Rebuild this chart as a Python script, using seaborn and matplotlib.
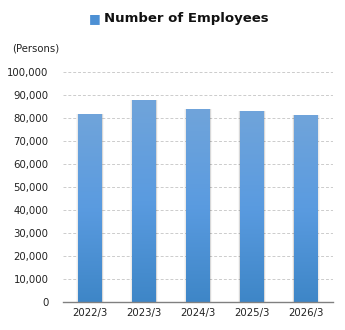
import matplotlib
matplotlib.use("Agg")
import matplotlib.pyplot as plt
import seaborn as sns
import numpy as np
import pandas as pd
from matplotlib.ticker import FuncFormatter, FixedLocator

years = ["2022/3", "2023/3", "2024/3", "2025/3", "2026/3"]
employees = [81700, 87800, 83900, 83000, 81300]
title = "Number of Employees"
unit_label = "(Persons)"

df = pd.DataFrame({"year": years, "employees": employees})

sns.set_theme(style="white")
plt.rcParams["font.family"] = ["DejaVu Sans"]

fig = plt.figure(figsize=(3.45, 3.30), dpi=100)
ax = fig.add_axes([0.183, 0.085, 0.782, 0.697])

sns.barplot(data=df, x="year", y="employees", color="#5698d6", width=0.44,
            ax=ax, zorder=3)

# gradient fill + soft shadow at the bar sides
grad = np.linspace(0, 1, 256).reshape(-1, 1)
cmap = matplotlib.colors.LinearSegmentedColormap.from_list("bar", ["#3e86c7", "#5a9be0", "#70a4da"])
for p in ax.patches:
    x0, y0 = p.get_x(), p.get_y()
    w, h = p.get_width(), p.get_height()
    for k, a in enumerate([0.08, 0.05, 0.03]):
        off = 0.012 * (k + 1)
        ax.add_patch(plt.Rectangle((x0 - off, y0), w + 2 * off, h,
                                   color="black", alpha=a, lw=0, zorder=2))
    im = ax.imshow(grad, extent=[x0, x0 + w, y0, y0 + h], origin="lower",
                   cmap=cmap, aspect="auto", zorder=4)
    im.set_clip_path(p)
    p.set_edgecolor("none")

ax.set_xlim(-0.5, len(years) - 0.5)
ax.set_ylim(0, 100000)
ax.set_yticks(range(0, 100001, 10000))
ax.yaxis.set_major_formatter(FuncFormatter(lambda v, _: f"{int(v):,}"))
ax.grid(axis="y", color="#cccccc", linestyle=(0, (3, 2)), linewidth=0.7, zorder=0)
ax.set_axisbelow(True)

for s in ["top", "right", "left"]:
    ax.spines[s].set_visible(False)
ax.spines["bottom"].set_color("#808080")
ax.spines["bottom"].set_linewidth(1.0)
ax.spines["bottom"].set_zorder(5)

ax.tick_params(axis="y", length=0, pad=10.5, labelsize=7.3, labelcolor="#222222")
ax.tick_params(axis="x", which="major", length=0, pad=4, labelsize=7.3, labelcolor="#222222")
ax.xaxis.set_minor_locator(FixedLocator(np.arange(-0.5, len(years), 1.0)))
ax.tick_params(axis="x", which="minor", length=6, direction="inout", color="#808080", width=1.0)
ax.set_xlabel("")
ax.set_ylabel("")

fig.text(0.035, 0.852, unit_label, fontsize=7.3, color="#222222", va="center", ha="left")
fig.text(0.258, 0.943, "\u25a0", fontsize=9, color="#4d90d4", va="center", ha="left")
fig.text(0.301, 0.945, title, fontsize=9.5, fontweight="bold", color="#111111",
         va="center", ha="left")

fig.savefig("out.png", dpi=100, facecolor="white")
